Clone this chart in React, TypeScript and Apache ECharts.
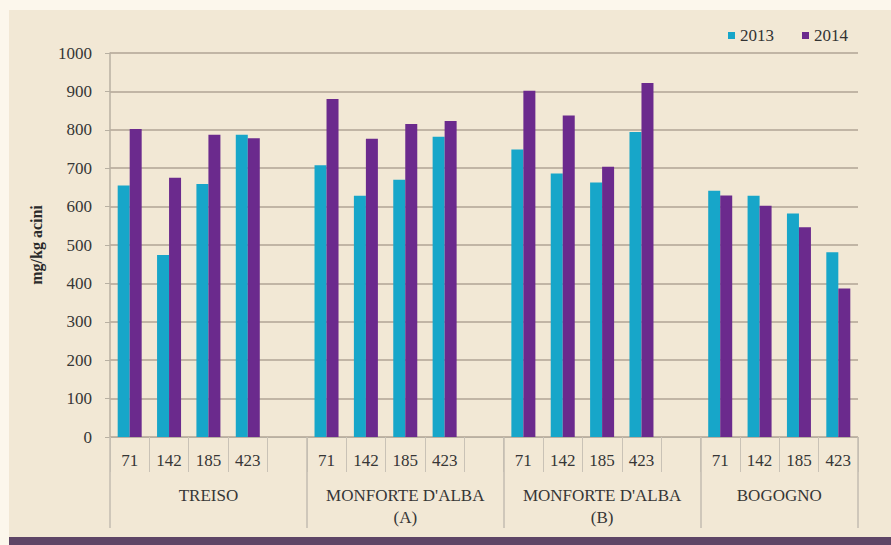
import React, { useEffect, useRef } from "react";
import * as echarts from "echarts";

const groups = ["TREISO", "MONFORTE D'ALBA\n(A)", "MONFORTE D'ALBA\n(B)", "BOGOGNO"];
const doses = ["71", "142", "185", "423"];
const series2013 = [
  [655, 474, 659, 787],
  [708, 628, 670, 782],
  [749, 686, 663, 794],
  [641, 628, 582, 481],
];
const series2014 = [
  [802, 675, 787, 778],
  [880, 777, 815, 823],
  [902, 837, 704, 922],
  [629, 602, 546, 387],
];
const yTicks = [0, 100, 200, 300, 400, 500, 600, 700, 800, 900, 1000];
const legendNames = ["2013", "2014"];

const FONT = "Liberation Serif";

export default function App() {
  const ref = useRef<HTMLDivElement>(null);
  useEffect(() => {
    if (!ref.current) return;
    const chart = echarts.init(ref.current, null, { renderer: "svg" });

    const categories: string[] = [];
    const d2013: any[] = [];
    const d2014: any[] = [];
    const boundaries: number[] = [0];
    const centers: number[] = [];
    const centerLabel: Record<string, string> = {};
    groups.forEach((g, gi) => {
      const start = categories.length;
      doses.forEach((d, di) => {
        categories.push(d);
        d2013.push(series2013[gi][di]);
        d2014.push(series2014[gi][di]);
      });
      if (gi < groups.length - 1) {
        categories.push("");
        d2013.push("-");
        d2014.push("-");
      }
      const end = categories.length;
      boundaries.push(end);
      const c = (start + end) / 2;
      centers.push(c);
      centerLabel[String(c)] = g;
    });
    const total = categories.length;

    const txt = { fontFamily: FONT, fontSize: 17, color: "#363636" };

    chart.setOption({
      animation: false,
      backgroundColor: "transparent",
      textStyle: { fontFamily: FONT },
      legend: {
        data: legendNames,
        right: 38,
        top: 22,
        icon: "rect",
        itemWidth: 7,
        itemHeight: 7,
        itemGap: 28,
        textStyle: { ...txt, color: "#333" },
      },
      grid: { left: 110, right: 33, top: 53, bottom: 108 },
      xAxis: [
        {
          type: "category",
          data: categories,
          position: "bottom",
          axisLine: { show: true, lineStyle: { color: "#b8b0a2", width: 1 } },
          axisTick: {
            show: true,
            interval: 0,
            length: 35,
            lineStyle: { color: "#c9c2b6", width: 1 },
          },
          axisLabel: {
            ...txt,
            interval: 0,
            margin: 15,
            lineHeight: 17,
          },
          splitLine: { show: false },
        },
        {
          type: "value",
          min: 0,
          max: total,
          position: "bottom",
          axisLine: { show: false },
          splitLine: { show: false },
          axisTick: {
            show: true,
            customValues: boundaries,
            length: 91,
            lineStyle: { color: "#c3bcb0", width: 1.5 },
          },
          axisLabel: {
            ...txt,
            show: true,
            customValues: centers,
            margin: 47,
            lineHeight: 22,
            formatter: (v: number) => centerLabel[String(v)] ?? "",
          },
        },
      ],
      yAxis: {
        type: "value",
        min: yTicks[0],
        max: yTicks[yTicks.length - 1],
        interval: 100,
        name: "mg/kg acini",
        nameLocation: "middle",
        nameGap: 66,
        nameTextStyle: { fontFamily: FONT, fontSize: 16, fontWeight: "bold", color: "#2a2a2a" },
        axisLine: { show: true, lineStyle: { color: "#b8b0a2", width: 1.5 } },
        axisTick: { show: true, length: 5, lineStyle: { color: "#b8b0a2" } },
        axisLabel: { ...txt, margin: 18, formatter: (v: number) => String(v) },
        splitLine: { show: true, lineStyle: { color: "#b0a595", width: 1.5 } },
      },
      series: [
        {
          name: legendNames[0],
          type: "bar",
          xAxisIndex: 0,
          data: d2013,
          barWidth: 12,
          barGap: "0%",
          itemStyle: { color: "#17a6c9" },
        },
        {
          name: legendNames[1],
          type: "bar",
          xAxisIndex: 0,
          data: d2014,
          barWidth: 12,
          barGap: "0%",
          itemStyle: { color: "#6b2a8d" },
        },
      ],
    });
    return () => chart.dispose();
  }, []);

  return (
    <div style={{ position: "absolute", left: 0, top: 0, width: 891, height: 545, background: "#fcf7ec", overflow: "hidden" }}>
      <div style={{ position: "absolute", left: 9, top: 10, right: 0, bottom: 0, background: "#f2e8d5" }} />
      <div style={{ position: "absolute", left: 9, right: 0, top: 537, bottom: 0, background: "#5e4566" }} />
      <div ref={ref} style={{ position: "absolute", left: 0, top: 0, width: 891, height: 545 }} />
    </div>
  );
}
